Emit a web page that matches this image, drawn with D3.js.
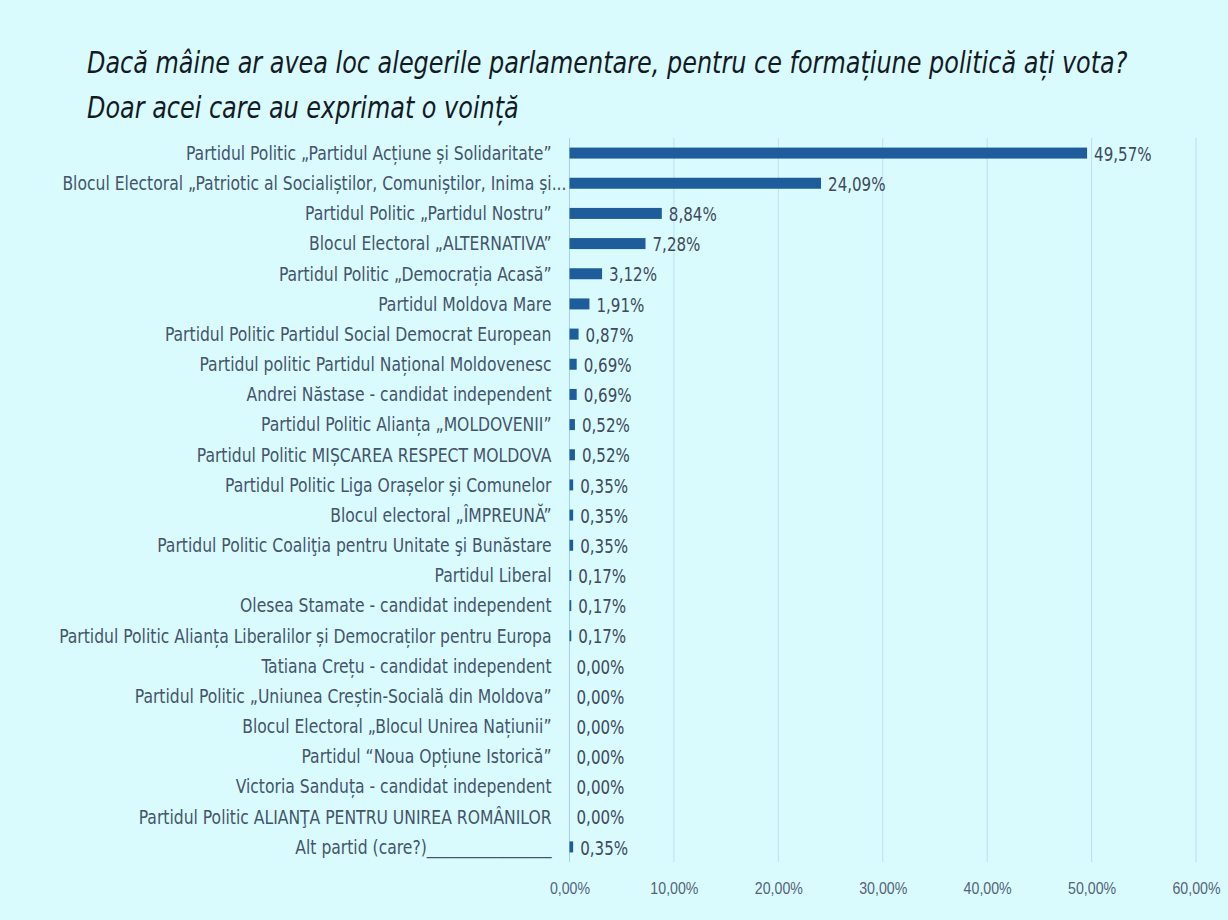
<!DOCTYPE html>
<html>
<head>
    <meta charset="UTF-8">
    <title>Sondaj alegeri parlamentare</title>
    <script src="https://d3js.org/d3.v7.min.js"></script>
    <style>
        html, body {
            margin: 0;
            padding: 0;
            background: #dafbfe;
        }
        body {
            font-family: "Liberation Sans Narrow", "DejaVu Sans Condensed", "Roboto", sans-serif;
        }
        .title {
            font-style: italic;
            font-size: 31px;
            fill: #141a24;
        }
        .cat-label {
            font-size: 19.5px;
            fill: #44546a;
        }
        .val-label {
            font-size: 20px;
            fill: #3e4a5c;
        }
        .axis text {
            font-size: 16.5px;
            fill: #536379;
        }
    </style>
</head>
<body>
<div id="chart"></div>
<script type="text/javascript">
    // chart values
    const titleLines = [
        "Dacă mâine ar avea loc alegerile parlamentare, pentru ce formațiune politică ați vota?",
        "Doar acei care au exprimat o voință"
    ];

    const parties = [
        "Partidul Politic „Partidul Acțiune și Solidaritate”",
        "Blocul Electoral „Patriotic al Socialiștilor, Comuniștilor, Inima și...",
        "Partidul Politic „Partidul Nostru”",
        "Blocul Electoral „ALTERNATIVA”",
        "Partidul Politic „Democrația Acasă”",
        "Partidul Moldova Mare",
        "Partidul Politic Partidul Social Democrat European",
        "Partidul politic Partidul Național Moldovenesc",
        "Andrei Năstase - candidat independent",
        "Partidul Politic Alianța „MOLDOVENII”",
        "Partidul Politic MIȘCAREA RESPECT MOLDOVA",
        "Partidul Politic Liga Orașelor și Comunelor",
        "Blocul electoral „ÎMPREUNĂ”",
        "Partidul Politic Coaliţia pentru Unitate şi Bunăstare",
        "Partidul Liberal",
        "Olesea Stamate - candidat independent",
        "Partidul Politic Alianța Liberalilor și Democraților pentru Europa",
        "Tatiana Crețu - candidat independent",
        "Partidul Politic „Uniunea Creștin-Socială din Moldova”",
        "Blocul Electoral „Blocul Unirea Națiunii”",
        "Partidul “Noua Opțiune Istorică”",
        "Victoria Sanduța - candidat independent",
        "Partidul Politic ALIANŢA PENTRU UNIREA ROMÂNILOR",
        "Alt partid (care?)________________"
    ];

    const shares = [
        49.57, 24.09, 8.84, 7.28, 3.12, 1.91, 0.87, 0.69, 0.69, 0.52, 0.52, 0.35,
        0.35, 0.35, 0.17, 0.17, 0.17, 0.00, 0.00, 0.00, 0.00, 0.00, 0.00, 0.35
    ];

    const xTicks = [0, 10, 20, 30, 40, 50, 60];

    const data = parties.map((p, i) => ({ party: p, share: shares[i] }));

    const fmt = v => v.toFixed(2).replace(".", ",") + "%";

    function drawChart() {
        const W = 1228, H = 920;
        const margin = { top: 138, right: 32, bottom: 58, left: 569.5 };

        // the source font is a narrow one, so text is squeezed sideways
        const catSqueeze = 0.89;
        const valSqueeze = 0.84;
        const tickSqueeze = 0.86;

        const svg = d3.select("#chart")
            .append("svg")
            .attr("width", W)
            .attr("height", H);

        svg.append("rect")
            .attr("width", W)
            .attr("height", H)
            .attr("fill", "#dafbfe");

        // title, fitted to the width it takes in the source
        const titles = svg.append("g")
            .selectAll("text")
            .data(titleLines)
            .join("text")
            .attr("class", "title")
            .text(d => d);
        const firstLen = titles.node().getComputedTextLength();
        const titleSqueeze = Math.min(1, 1041 / firstLen);
        titles.attr("transform", (d, i) => `translate(87, ${73 + i * 45}) scale(${titleSqueeze}, 1)`);

        const x = d3.scaleLinear()
            .domain([0, 60])
            .range([margin.left, 1196]);

        const y = d3.scaleBand()
            .domain(parties)
            .range([margin.top, H - margin.bottom])
            .padding(0);

        const barH = 11;

        // gridlines
        svg.append("g")
            .selectAll("line")
            .data(xTicks)
            .join("line")
            .attr("x1", d => x(d))
            .attr("x2", d => x(d))
            .attr("y1", margin.top)
            .attr("y2", H - margin.bottom)
            .attr("stroke", d => d === 0 ? "#a9cfe6" : "#bcdef0")
            .attr("stroke-width", 1);

        // x axis labels
        const xAxis = d3.axisBottom(x)
            .tickValues(xTicks)
            .tickFormat(fmt)
            .tickSize(0)
            .tickPadding(20);

        svg.append("g")
            .attr("class", "axis")
            .attr("transform", `translate(0, ${H - margin.bottom})`)
            .call(xAxis)
            .call(g => g.select(".domain").remove())
            .call(g => g.selectAll("text").attr("transform", `scale(${tickSqueeze}, 1)`));

        // bars
        svg.append("g")
            .selectAll("rect")
            .data(data)
            .join("rect")
            .attr("x", x(0))
            .attr("y", d => y(d.party) + y.bandwidth() / 2 - barH / 2)
            .attr("width", d => x(d.share) - x(0))
            .attr("height", barH)
            .attr("fill", "#1f5c9b");

        // category labels (a cut-off label runs closer to the axis, as in the source)
        svg.append("g")
            .selectAll("text")
            .data(data)
            .join("text")
            .attr("class", "cat-label")
            .attr("transform", d => {
                const gap = d.party.endsWith("...") ? 3 : 18;
                return `translate(${x(0) - gap}, ${y(d.party) + y.bandwidth() / 2}) scale(${catSqueeze}, 1)`;
            })
            .attr("dy", "0.35em")
            .attr("text-anchor", "end")
            .text(d => d.party);

        // value labels
        svg.append("g")
            .selectAll("text")
            .data(data)
            .join("text")
            .attr("class", "val-label")
            .attr("transform", d => `translate(${x(d.share) + 7}, ${y(d.party) + y.bandwidth() / 2}) scale(${valSqueeze}, 1)`)
            .attr("dy", "0.38em")
            .text(d => fmt(d.share));
    }

    drawChart();
</script>
</body>
</html>
